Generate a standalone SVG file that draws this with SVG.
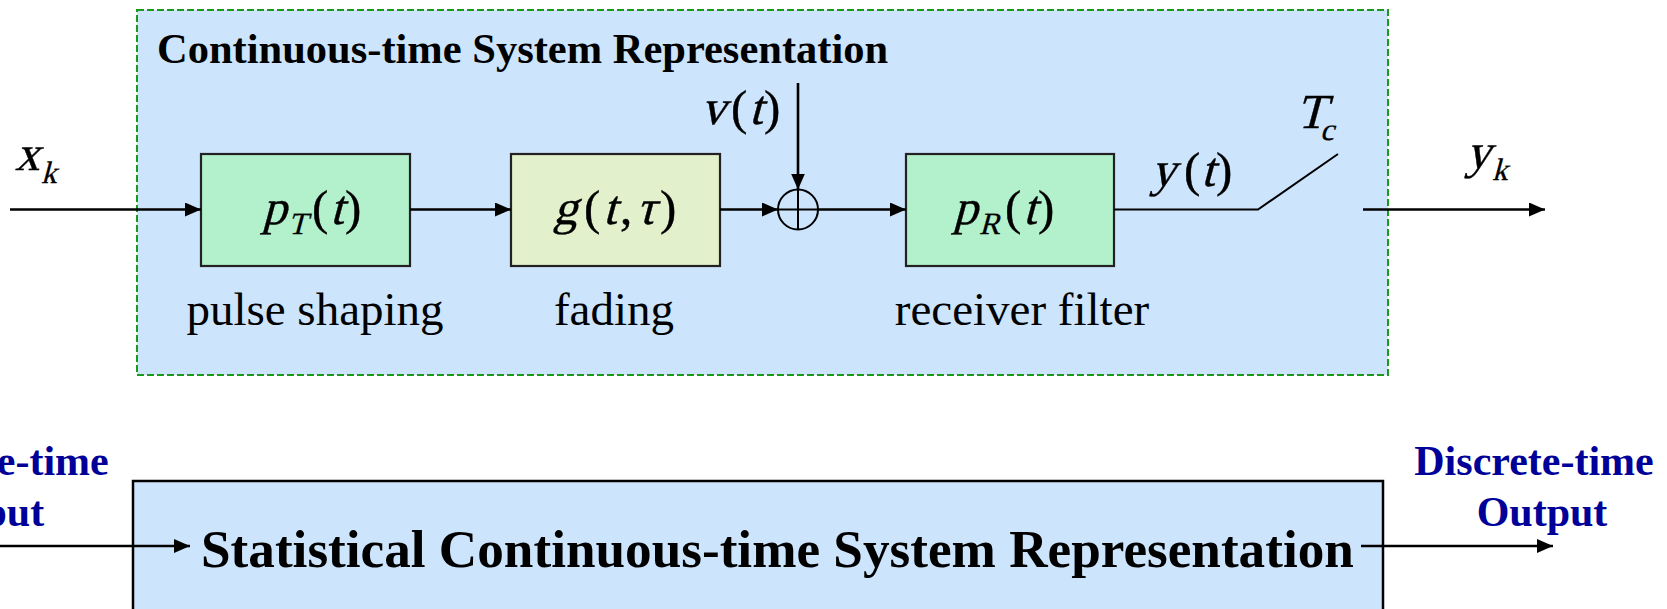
<svg xmlns="http://www.w3.org/2000/svg" width="1667" height="609" viewBox="0 0 1667 609">
  <defs>
    <marker id="arrow" markerWidth="16" markerHeight="14" refX="16" refY="7" orient="auto" markerUnits="userSpaceOnUse">
      <path d="M0,0 L16,7 L0,14 Z" fill="#000"/>
    </marker>
    <style>
      .frame { fill: #cce4fc; stroke: #1a9a1a; stroke-width: 2; stroke-dasharray: 7 3; }
      .block { stroke: #222; stroke-width: 2.2; }
      .green { fill: #b3f0cc; }
      .olive { fill: #e3f0cc; }
      .wire { fill: none; stroke: #000; stroke-width: 2.6; }
      .thin { fill: none; stroke: #000; stroke-width: 2; }
      .title { font-family: "Liberation Serif", "Times New Roman", serif; font-weight: bold; font-size: 42.5px; fill: #000; }
      .label { font-family: "Liberation Serif", "Times New Roman", serif; font-size: 47px; fill: #000; text-anchor: middle; }
      /* math symbols: serif glyphs; variables are slanted with skewX */
      .m { font-family: "Liberation Serif", "Times New Roman", serif; font-size: 49px; fill: #000; stroke: #000; stroke-width: 0.4; }
      .s { font-family: "Liberation Serif", "Times New Roman", serif; font-size: 31px; fill: #000; stroke: #000; stroke-width: 0.3; }
      .big { font-family: "Liberation Serif", "Times New Roman", serif; font-weight: bold; font-size: 53.2px; fill: #000; }
      .io { font-family: "Liberation Serif", "Times New Roman", serif; font-weight: bold; font-size: 42px; fill: #000099; text-anchor: middle; }
    </style>
  </defs>

  <!-- continuous-time system frame -->
  <g id="ct-frame">
    <rect class="frame" x="137" y="10" width="1251" height="365"/>
    <text class="title" x="157" y="63">Continuous-time System Representation</text>
  </g>

  <!-- input / output symbols -->
  <g id="input-xk">
    <text class="m" transform="translate(15,170) skewX(-15)">x</text>
    <text class="s" transform="translate(41,183) skewX(-15)">k</text>
  </g>
  <g id="output-yk">
    <text class="m" transform="translate(1466,168) skewX(-15)">y</text>
    <text class="s" transform="translate(1492,180) skewX(-15)">k</text>
  </g>

  <!-- pulse shaping block -->
  <g id="pulse-shaping">
    <rect class="block green" x="201" y="154" width="209" height="112"/>
    <text class="m" transform="translate(262,224) skewX(-15)">p</text>
    <text class="s" transform="translate(288,234) skewX(-15)">T</text>
    <text class="m" x="312" y="224">(</text>
    <text class="m" transform="translate(330,224) skewX(-15)">t</text>
    <text class="m" x="345" y="224">)</text>
    <text class="label" x="315" y="325">pulse shaping</text>
  </g>

  <!-- fading block -->
  <g id="fading">
    <rect class="block olive" x="511" y="154" width="209" height="112"/>
    <text class="m" transform="translate(553,224) skewX(-15)">g</text>
    <text class="m" x="584" y="224">(</text>
    <text class="m" transform="translate(603,224) skewX(-15)">t</text>
    <text class="m" x="620" y="224">,</text>
    <text class="m" transform="translate(636,224) skewX(-15)">τ</text>
    <text class="m" x="660" y="224">)</text>
    <text class="label" x="614" y="325">fading</text>
  </g>

  <!-- noise summing junction -->
  <g id="noise-sum">
    <circle cx="798" cy="209.5" r="20" fill="none" stroke="#000" stroke-width="2"/>
    <line class="thin" x1="778" y1="209.5" x2="818" y2="209.5"/>
    <line class="thin" x1="798" y1="189.5" x2="798" y2="229.5"/>
    <text class="m" transform="translate(701,124) skewX(-15)">v</text>
    <text class="m" x="731" y="124">(</text>
    <text class="m" transform="translate(749,124) skewX(-15)">t</text>
    <text class="m" x="764" y="124">)</text>
  </g>

  <!-- receiver filter block -->
  <g id="receiver-filter">
    <rect class="block green" x="906" y="154" width="208" height="112"/>
    <text class="m" transform="translate(953,224) skewX(-15)">p</text>
    <text class="s" transform="translate(979,234) skewX(-15)">R</text>
    <text class="m" x="1005" y="224">(</text>
    <text class="m" transform="translate(1023,224) skewX(-15)">t</text>
    <text class="m" x="1038" y="224">)</text>
    <text class="label" x="1022" y="325">receiver filter</text>
  </g>

  <!-- sampler -->
  <g id="sampler">
    <text class="m" transform="translate(1151,186) skewX(-15)">y</text>
    <text class="m" x="1184" y="186">(</text>
    <text class="m" transform="translate(1201,186) skewX(-15)">t</text>
    <text class="m" x="1216" y="186">)</text>
    <text class="m" transform="translate(1296,128) skewX(-15)">T</text>
    <text class="s" transform="translate(1320,140) skewX(-15)">c</text>
  </g>

  <!-- statistical system block -->
  <g id="statistical-system">
    <rect x="133" y="481" width="1250" height="140" fill="#cce4fc" stroke="#000" stroke-width="2.5"/>
    <text class="big" x="201" y="567">Statistical Continuous-time System Representation</text>
  </g>

  <g id="discrete-input">
    <text class="io" x="-11" y="475">Discrete-time</text>
    <text class="io" x="-6" y="526">Input</text>
  </g>

  <g id="discrete-output">
    <text class="io" x="1534" y="475">Discrete-time</text>
    <text class="io" x="1542" y="526">Output</text>
  </g>

  <!-- connectors, drawn over the blocks -->
  <g id="connectors">
    <line class="wire" x1="10" y1="209.5" x2="201" y2="209.5" marker-end="url(#arrow)"/>
    <line class="wire" x1="410" y1="209.5" x2="511" y2="209.5" marker-end="url(#arrow)"/>
    <line class="wire" x1="720" y1="209.5" x2="778" y2="209.5" marker-end="url(#arrow)"/>
    <line class="wire" x1="798" y1="83" x2="798" y2="189.5" marker-end="url(#arrow)"/>
    <line class="wire" x1="818" y1="209.5" x2="906" y2="209.5" marker-end="url(#arrow)"/>
    <polyline class="thin" points="1114,209.5 1258,209.5 1338,154"/>
    <line class="wire" x1="1363" y1="209.5" x2="1545" y2="209.5" marker-end="url(#arrow)"/>
    <line class="wire" x1="0" y1="546" x2="190" y2="546" marker-end="url(#arrow)"/>
    <line class="wire" x1="1361" y1="546" x2="1553" y2="546" marker-end="url(#arrow)"/>
  </g>
</svg>
